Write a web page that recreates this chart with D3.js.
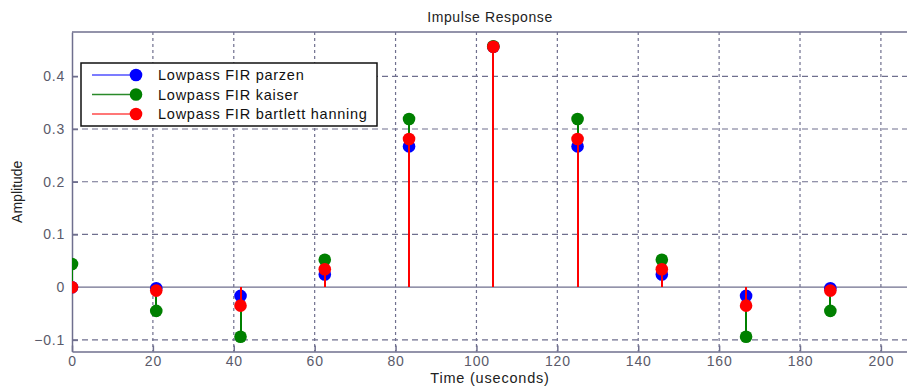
<!DOCTYPE html>
<html>
<head>
<meta charset="utf-8">
<script src="https://cdn.jsdelivr.net/npm/d3@7"></script>
<style>
  html, body { margin: 0; padding: 0; background: #fff; }
  svg { display: block; font-family: "Liberation Sans", Arial, sans-serif; }
</style>
</head>
<body>
<svg id="chart" width="907" height="387"></svg>
<script>
// Sample times (microseconds), one sample every 1/48 kHz
const times = [0, 20.833, 41.667, 62.5, 83.333, 104.167, 125, 145.833, 166.667, 187.5];

// Impulse responses of the three window designs
const parzen          = [0, -0.002, -0.0165, 0.024, 0.267, 0.456, 0.267, 0.024, -0.0165, -0.002];
const kaiser          = [0.044, -0.045, -0.094, 0.052, 0.319, 0.457, 0.319, 0.052, -0.094, -0.045];
const bartlettHanning = [0, -0.0065, -0.035, 0.034, 0.281, 0.456, 0.281, 0.034, -0.035, -0.0065];

const seriesNames  = ["Lowpass FIR parzen", "Lowpass FIR kaiser", "Lowpass FIR bartlett hanning"];
const seriesColors = ["#0000ff", "#008000", "#ff0000"];
const legendLineColors = ["#5050ff", "#2a8a2a", "#ff4a4a"];
const seriesData   = [parzen, kaiser, bartlettHanning];

const xTicks = [0, 20, 40, 60, 80, 100, 120, 140, 160, 180, 200];
const yTicks = [-0.1, 0, 0.1, 0.2, 0.3, 0.4];

const plot = { left: 72, top: 32, right: 908, bottom: 351.5 };

const svg = d3.select("#chart");
const x = d3.scaleLinear().domain([0, 206.7]).range([plot.left, plot.right]);
const y = d3.scaleLinear().domain([-0.122, 0.484]).range([plot.bottom, plot.top]);

const axisColor = "#6f6f8e";
const gridColor = "#6f6f8e";

svg.append("defs").append("clipPath").attr("id", "plotClip")
  .append("rect")
  .attr("x", plot.left).attr("y", plot.top - 8)
  .attr("width", plot.right - plot.left).attr("height", plot.bottom - plot.top + 8);

// Grid
const grid = svg.append("g");
grid.selectAll("line.vx").data(xTicks.filter(d => d > 0)).join("line")
  .attr("x1", d => x(d)).attr("x2", d => x(d))
  .attr("y1", plot.top).attr("y2", plot.bottom)
  .attr("stroke", gridColor).attr("stroke-width", 1.2)
  .attr("stroke-dasharray", "3,3");
grid.selectAll("line.hy").data(yTicks.filter(d => d !== 0)).join("line")
  .attr("x1", plot.left).attr("x2", plot.right)
  .attr("y1", d => y(d)).attr("y2", d => y(d))
  .attr("stroke", gridColor).attr("stroke-width", 1.2)
  .attr("stroke-dasharray", "6,4");

// Stem baseline
svg.append("line")
  .attr("x1", plot.left).attr("x2", plot.right)
  .attr("y1", y(0)).attr("y2", y(0))
  .attr("stroke", axisColor).attr("stroke-width", 1.3);

// Axes (left and bottom, ticks pointing inward)
const xAxis = d3.axisBottom(x).tickValues(xTicks).tickFormat(d3.format("d"))
  .tickSizeInner(-6).tickSizeOuter(0).tickPadding(5);
const yAxis = d3.axisLeft(y).tickValues(yTicks).tickFormat(d => d === 0 ? "0" : d3.format(".1f")(d))
  .tickSizeInner(-6).tickSizeOuter(0).tickPadding(7);

const gx = svg.append("g").attr("transform", `translate(0,${plot.bottom})`).call(xAxis);
const gy = svg.append("g").attr("transform", `translate(${plot.left},0)`).call(yAxis);
[gx, gy].forEach(g => {
  g.select(".domain").attr("stroke", axisColor).attr("stroke-width", 1.5);
  g.selectAll(".tick line").attr("stroke", axisColor).attr("stroke-width", 1.5);
  g.selectAll(".tick text").attr("fill", "#5a5a6a").attr("font-size", 14)
    .attr("letter-spacing", 0.8)
    .attr("font-family", "Liberation Sans, Arial, sans-serif");
});

// Top border of the axes box
svg.append("line")
  .attr("x1", plot.left).attr("x2", plot.right)
  .attr("y1", plot.top).attr("y2", plot.top)
  .attr("stroke", axisColor).attr("stroke-width", 1.5);

// Stem series: each series draws its stems, then its markers
const marks = svg.append("g").attr("clip-path", "url(#plotClip)");
seriesData.forEach((vals, i) => {
  const pts = times.map((t, k) => ({ t, v: vals[k] }));
  const g = marks.append("g");
  g.selectAll("line").data(pts).join("line")
    .attr("x1", d => x(d.t)).attr("x2", d => x(d.t))
    .attr("y1", y(0)).attr("y2", d => y(d.v))
    .attr("stroke", seriesColors[i]).attr("stroke-width", 2)
    .attr("shape-rendering", "crispEdges");
  g.selectAll("circle").data(pts).join("circle")
    .attr("cx", d => x(d.t)).attr("cy", d => y(d.v)).attr("r", 6.3)
    .attr("fill", seriesColors[i]);
});

// Titles
svg.append("text").attr("x", 490).attr("y", 22).attr("text-anchor", "middle")
  .attr("font-size", 14).attr("letter-spacing", 0.6).attr("fill", "#222").text("Impulse Response");
svg.append("text").attr("x", 490).attr("y", 383).attr("text-anchor", "middle")
  .attr("font-size", 14.5).attr("letter-spacing", 0.8).attr("fill", "#222").text("Time (useconds)");
svg.append("text")
  .attr("transform", `translate(22,${(plot.top + plot.bottom) / 2}) rotate(-90)`)
  .attr("text-anchor", "middle").attr("font-size", 14).attr("fill", "#222").text("Amplitude");

// Legend
const lg = svg.append("g").attr("transform", "translate(81,63)");
lg.append("rect").attr("width", 296).attr("height", 63)
  .attr("fill", "#fff").attr("stroke", "#111").attr("stroke-width", 1.5);
seriesNames.forEach((name, i) => {
  const cy = 12 + i * 19.5;
  lg.append("line").attr("x1", 11).attr("x2", 55).attr("y1", cy).attr("y2", cy)
    .attr("stroke", legendLineColors[i]).attr("stroke-width", 1.5);
  lg.append("circle").attr("cx", 55).attr("cy", cy).attr("r", 6.3).attr("fill", seriesColors[i]);
  lg.append("text").attr("x", 77).attr("y", cy + 5).attr("font-size", 14.5)
    .attr("letter-spacing", 0.75).attr("fill", "#111").text(name);
});
</script>
</body>
</html>
